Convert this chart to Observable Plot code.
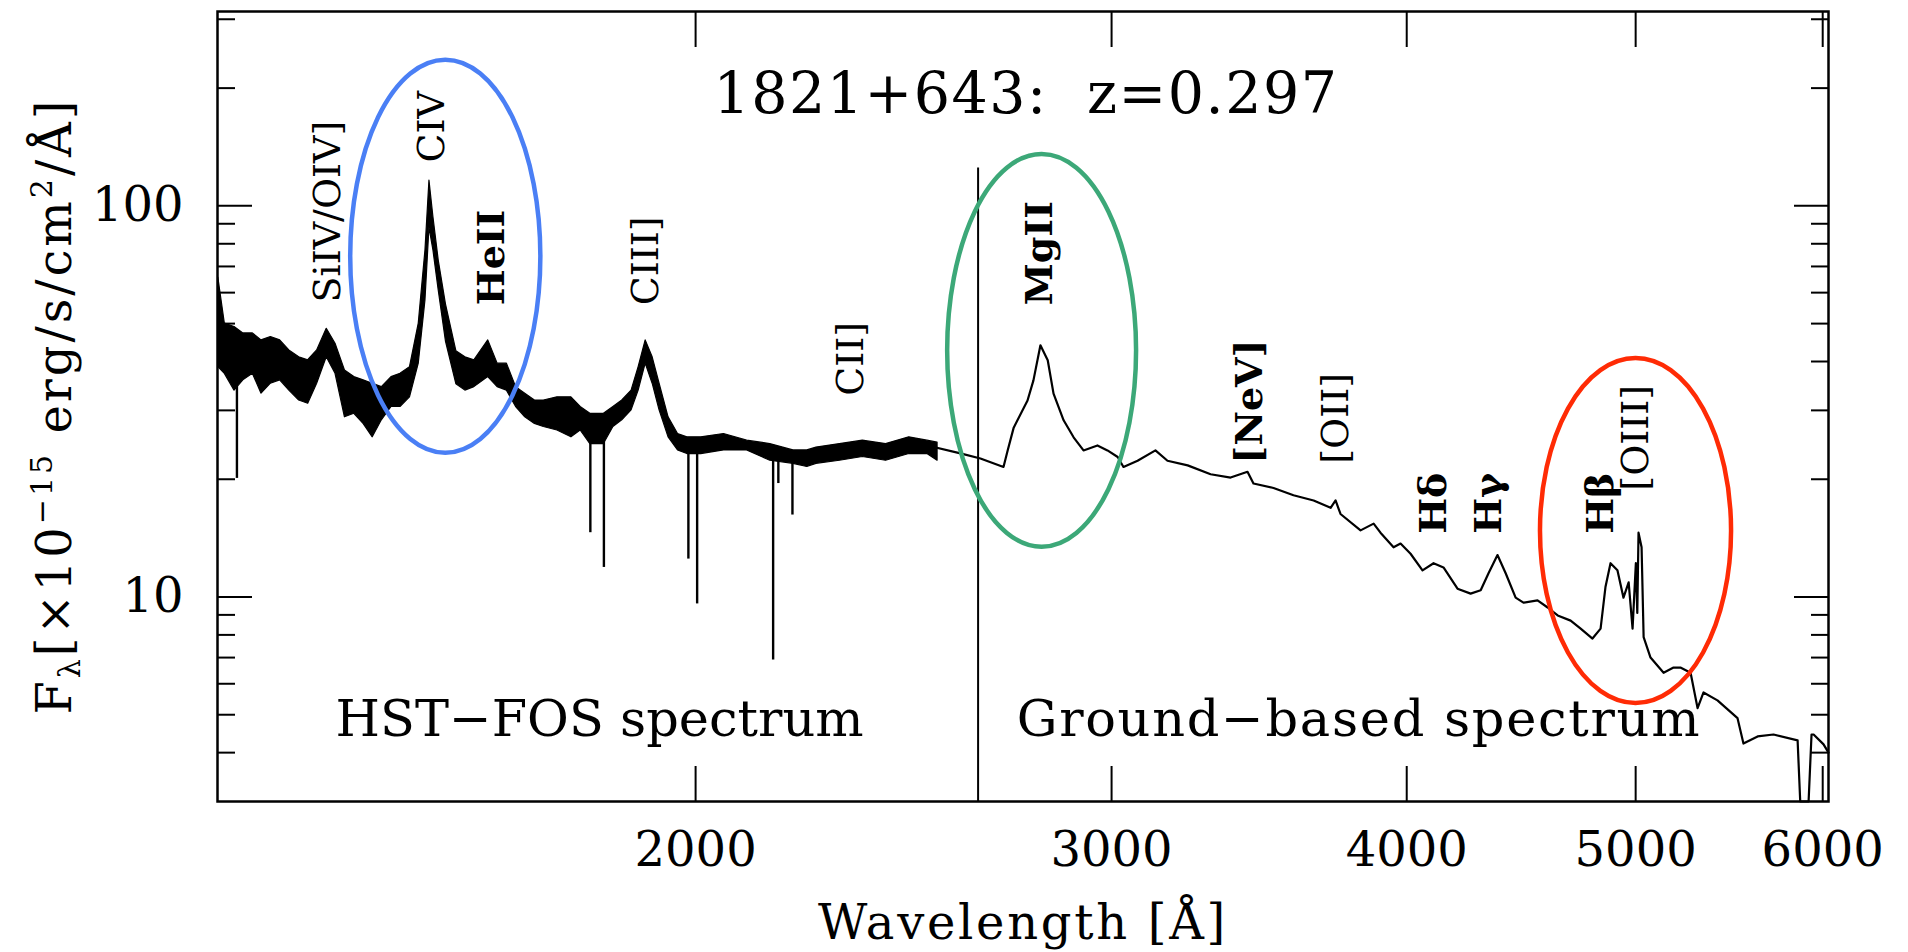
<!DOCTYPE html>
<html><head><meta charset="utf-8">
<script src="https://cdn.jsdelivr.net/npm/d3@7"></script>
<script src="https://cdn.jsdelivr.net/npm/@observablehq/plot@0.6"></script>
<style>html,body{margin:0;padding:0;background:#fff;} svg{display:block}</style>
</head><body><div id="chart"></div>
<script>
// ---------- data ----------
// HST-FOS spectrum (noisy band): rest wavelength [Å], lower / upper envelope of flux
const hstWave = [1256,1264,1276,1287,1299,1310,1322,1334,1346,1359,1371,1383,1396,1408,1421,1434,1447,1460,1473,1487,1500,1514,1527,1537,1543,1549,1557,1568,1584,1598,1612,1634,1649,1664,1679,1694,1710,1725,1748,1772,1788,1805,1829,1846,1862,1879,1892,1905,1918,1931,1948,1966,1984,2011,2056,2103,2151,2200,2230,2250,2302,2354,2408,2463,2507,2532];
const hstLow  = [38.7,37.2,33.7,35.8,37.2,33.1,35.1,35.8,33.7,31.8,31.2,35.1,41.0,37.2,28.8,29.4,27.7,25.6,28.3,30.6,30.6,32.4,39.5,57.3,88.0,76.9,60.8,45.0,35.0,33.7,34.4,36.5,34.4,33.7,30.6,28.8,27.7,27.2,26.65,25.6,26.65,24.6,24.6,27.2,28.3,30.0,33.7,39.5,35.1,30.0,25.6,23.7,23.2,23.2,23.7,23.7,22.3,21.9,21.5,21.9,22.3,22.8,22.3,23.2,23.2,22.3];
const hstHigh = [65.6,50.0,49.0,47.2,47.2,45.3,46.2,45.3,42.7,41.0,40.3,42.7,48.5,44.4,37.96,36.5,35.8,35.1,34.4,36.5,37.2,38.7,50.0,76.9,116.0,93.5,72.5,56.0,42.5,41.0,40.3,45.3,39.5,39.5,34.4,33.1,31.8,31.8,32.4,32.4,30.6,29.4,29.4,30.6,31.8,33.7,38.7,45.3,41.0,35.1,28.8,26.1,25.6,25.6,26.1,25.1,24.6,23.7,23.7,24.1,24.6,25.1,24.6,25.6,25.1,24.8];
// narrow absorption dips in the HST spectrum
const absWave = [1279,1805,1829,1986,2003,2157,2168,2198];
const absTop  = [36.0,25.0,25.0,23.5,23.5,22.5,22.5,22.0];
const absMin  = [20.1,14.6,11.9,12.5,9.6,6.9,19.5,16.2];
// ground-based spectrum
const groundWave = [2507,2589,2640,2700,2711,2727,2764,2780,2799,2819,2835,2863,2891,2919,2959,2988,3018,3035,3077,3131,3168,3231,3304,3369,3425,3445,3513,3582,3653,3714,3732,3750,3824,3873,3899,3949,3976,4015,4062,4106,4146,4203,4257,4299,4332,4370,4405,4448,4482,4544,4589,4634,4693,4739,4794,4832,4855,4879,4912,4941,4966,4985,5001,5008,5014,5029,5039,5073,5138,5188,5223,5275,5311,5342,5415,5522,5554,5631,5719,5855,5870,5918,5935,5947,6005,6034];
const groundFlux = [24.4,23.3,22.6,21.5,23.7,27.1,31.8,35.8,44.0,40.3,33.1,28.3,25.6,23.7,24.4,23.7,22.8,21.5,22.3,23.7,22.3,21.7,20.6,20.2,20.9,19.5,19.0,18.2,17.65,16.9,17.65,16.3,14.8,15.4,14.6,13.4,13.7,12.9,11.7,12.2,11.9,10.5,10.2,10.4,11.5,12.8,11.5,9.96,9.67,9.8,9.4,8.97,8.7,8.3,7.83,8.3,10.6,12.2,11.7,9.96,10.9,8.3,12.2,9.1,14.6,13.4,7.9,7.0,6.4,6.6,6.6,6.4,5.2,5.7,5.44,4.9,4.22,4.4,4.45,4.3,3.0,3.0,4.45,4.45,4.2,4.0];
// emission line labels
const lineNames = ["SiIV/OIV]","CIV","HeII","CIII]","CII]","MgII","[NeV]","[OII]","Hδ","Hγ","Hβ","[OIII]"];
const lineWave  = [1398,1546,1640,1905,2326,2797,3432,3732,4108,4332,4835,5000];
const lineLabelFlux = [56.6,129,55.7,55.7,32.7,55.7,21.9,21.9,14.5,14.5,14.5,18.7];
const lineBold  = [false,false,true,false,false,true,true,false,true,true,true,false];
// boundary between the two spectra
const splitWave = 2634, splitTopFlux = 125;
// highlight ellipses (bounding box in data units)
const ellipseColor = ["#4a7ff5","#3ca878","#ff2b05"];
const ellipseWaveMin = [1429,2557,4557];
const ellipseWaveMax = [1720,3074,5490];
const ellipseFluxMin = [23.3,13.4,5.34];
const ellipseFluxMax = [235.6,135.4,40.7];
// annotations
const noteText = ["HST−FOS spectrum","Ground−based spectrum"];
const noteWave = [1408,2735];
const noteFlux = [4.42,4.42];
const titleText = "1821+643:\u00a0\u00a0z=0.297";
const xLabel = "Wavelength [Å]";
// axes
const xTicks = [2000,3000,4000,5000,6000];
const yMajorTicks = [10,100];
const yMinorTicks = [4,5,6,7,8,9,20,30,40,50,60,70,80,90,200,300];
const xDomain = [1255,6034];
const yDomain = [3.0,314];

// ---------- tables ----------
const hst = hstWave.map((w,i)=>({w, lo: hstLow[i], hi: hstHigh[i]}));
const abs = absWave.map((w,i)=>({w, top: absTop[i], min: absMin[i]}));
const ground = groundWave.map((w,i)=>({w, f: groundFlux[i]}));
const labels = lineNames.map((t,i)=>({t, w: lineWave[i], f: lineLabelFlux[i], bold: lineBold[i]}));
const notes = noteText.map((t,i)=>({t, w: noteWave[i], f: noteFlux[i]}));
const ellipses = ellipseColor.map((c,i)=>({c, w0: ellipseWaveMin[i], w1: ellipseWaveMax[i], f0: ellipseFluxMin[i], f1: ellipseFluxMax[i]}));

const FONT = "DejaVu Serif";

function ellipseMark(index, scales) {
  const g = d3.create("svg:g").attr("fill","none").attr("stroke-width",4.5);
  for (const e of ellipses) {
    const x0 = scales.x(e.w0), x1 = scales.x(e.w1), y0 = scales.y(e.f0), y1 = scales.y(e.f1);
    g.append("ellipse").attr("cx",(x0+x1)/2).attr("cy",(y0+y1)/2)
      .attr("rx",Math.abs(x1-x0)/2).attr("ry",Math.abs(y1-y0)/2).attr("stroke",e.c);
  }
  return g.node();
}

function yLabelMark(index, scales, values, dims) {
  const cy = (dims.marginTop + dims.height - dims.marginBottom)/2;
  const g = d3.create("svg:g");
  const t = g.append("text")
    .attr("transform",`translate(${dims.marginLeft-146},${cy}) rotate(-90)`)
    .attr("text-anchor","middle").attr("font-family",FONT).attr("font-size",48)
    .attr("letter-spacing",3).attr("fill","black");
  t.append("tspan").text("F");
  t.append("tspan").attr("font-size",30).attr("dy",9).text("λ");
  t.append("tspan").attr("dy",-9).text("[×10");
  t.append("tspan").attr("font-size",30).attr("dy",-19).text("−15");
  t.append("tspan").attr("dy",19).text(" erg/s/cm");
  t.append("tspan").attr("font-size",30).attr("dy",-19).text("2");
  t.append("tspan").attr("dy",19).text("/Å]");
  return g.node();
}

const chart = Plot.plot({
  width: 1908, height: 952,
  marginLeft: 217, marginRight: 80, marginTop: 11, marginBottom: 151,
  x: {type: "log", domain: xDomain},
  y: {type: "log", domain: yDomain},
  style: {fontFamily: FONT, background: "white", color: "black"},
  marks: [
    Plot.areaY(hst, {x: "w", y1: "lo", y2: "hi", fill: "black", stroke: "black", strokeWidth: 1.2}),
    Plot.ruleX(abs, {x: "w", y1: "top", y2: "min", stroke: "black", strokeWidth: 2.4}),
    Plot.line(ground, {x: "w", y: "f", stroke: "black", strokeWidth: 2.2}),
    Plot.ruleX([splitWave], {x: d => d, y1: splitTopFlux, y2: yDomain[0], stroke: "black", strokeWidth: 2}),
    // ticks (inward)
    Plot.axisX(xTicks, {anchor: "bottom", tickSize: 35, dy: -35, tickFormat: () => "", label: null, strokeWidth: 2}),
    Plot.axisX(xTicks, {anchor: "top", tickSize: 35, dy: 35, tickFormat: () => "", label: null, strokeWidth: 2}),
    Plot.axisY(yMajorTicks, {anchor: "left", tickSize: 35, dx: 35, tickFormat: () => "", label: null, strokeWidth: 2}),
    Plot.axisY(yMajorTicks, {anchor: "right", tickSize: 35, dx: -35, tickFormat: () => "", label: null, strokeWidth: 2}),
    Plot.axisY(yMinorTicks, {anchor: "left", tickSize: 18, dx: 18, tickFormat: () => "", label: null, strokeWidth: 2}),
    Plot.axisY(yMinorTicks, {anchor: "right", tickSize: 18, dx: -18, tickFormat: () => "", label: null, strokeWidth: 2}),
    // tick labels
    Plot.axisX(xTicks, {anchor: "bottom", tickSize: 0, tickPadding: 30, fontSize: 48, tickFormat: d => String(d), label: null}),
    Plot.axisY(yMajorTicks, {anchor: "left", tickSize: 0, tickPadding: 34, fontSize: 48, tickFormat: d => String(d), label: null}),
    Plot.frame({stroke: "black", strokeWidth: 2.5}),
    // line labels
    Plot.text(labels.filter(d => !d.bold), {x: "w", y: "f", text: "t", rotate: -90, textAnchor: "start", lineAnchor: "middle", fontSize: 38, fill: "black"}),
    Plot.text(labels.filter(d => d.bold), {x: "w", y: "f", text: "t", rotate: -90, textAnchor: "start", lineAnchor: "middle", fontSize: 38, fontWeight: "bold", fill: "black"}),
    // annotations
    Plot.text(notes, {x: "w", y: "f", text: "t", textAnchor: "start", lineAnchor: "bottom", fontSize: 51, fill: "black"}),
    Plot.text([titleText], {frameAnchor: "top", dx: 3, dy: 101, lineAnchor: "bottom", text: d => d, fontSize: 57, fill: "black"}),
    Plot.text([xLabel], {frameAnchor: "bottom", dy: 137, lineAnchor: "bottom", text: d => d, fontSize: 48, fill: "black"}),
    ellipseMark,
    yLabelMark
  ]
});
// letter spacing to match the wide plotting font of the original
const spacing = {[titleText]: 1.5, "Ground−based spectrum": 1.7, [xLabel]: 2.7};
chart.querySelectorAll("text").forEach(t => {
  const s = spacing[t.textContent];
  if (s) t.setAttribute("letter-spacing", s);
});
document.getElementById("chart").appendChild(chart);
</script>
</body></html>
